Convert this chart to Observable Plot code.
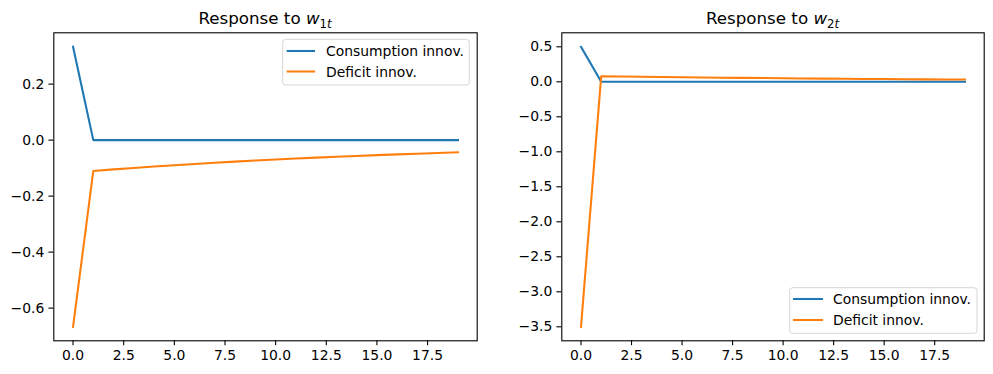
<!DOCTYPE html>
<html>
<head>
<meta charset="utf-8">
<script src="https://cdn.jsdelivr.net/npm/d3@7"></script>
<script src="https://cdn.jsdelivr.net/npm/@observablehq/plot@0.6"></script>
<style>
  html, body { margin: 0; padding: 0; background: white; }
  #wrap { position: relative; width: 993px; height: 374px; overflow: hidden; font-family: "DejaVu Sans", sans-serif; }
  #wrap > svg, #wrap > figure { position: absolute; top: 0; margin: 0; }
  #overlay { position: absolute; left: 0; top: 0; pointer-events: none; }
</style>
</head>
<body>
<div id="wrap"></div>
<script>
// ---- data ----
const periods = [0,1,2,3,4,5,6,7,8,9,10,11,12,13,14,15,16,17,18,19];
const seriesNames = ["Consumption innov.", "Deficit innov."];
const seriesColors = ["#1f77b4", "#ff7f0e"];

const consW1 = [0.3333,0,0,0,0,0,0,0,0,0,0,0,0,0,0,0,0,0,0,0];
const defW1  = [-0.6667,-0.1100,-0.1045,-0.0993,-0.0943,-0.0896,-0.0851,-0.0809,-0.0768,-0.0730,-0.0693,-0.0659,-0.0626,-0.0594,-0.0565,-0.0536,-0.0510,-0.0484,-0.0460,-0.0437];
const consW2 = [0.5,0,0,0,0,0,0,0,0,0,0,0,0,0,0,0,0,0,0,0];
const defW2  = [-3.5,0.0800,0.0760,0.0722,0.0686,0.0652,0.0619,0.0588,0.0559,0.0531,0.0504,0.0479,0.0455,0.0432,0.0411,0.0390,0.0371,0.0352,0.0335,0.0318];

const xTicks = [0,2.5,5,7.5,10,12.5,15,17.5];
const yTicksW1 = [-0.6,-0.4,-0.2,0.0,0.2];
const yTicksW2 = [-3.5,-3.0,-2.5,-2.0,-1.5,-1.0,-0.5,0.0,0.5];
const titleSubs = ["1", "2"];

// ---- helpers ----
const fmt = d3.format(".1f");
function tidy(cons, def) {
  const rows = [];
  periods.forEach((t, i) => rows.push({t, value: cons[i], series: seriesNames[0]}));
  periods.forEach((t, i) => rows.push({t, value: def[i], series: seriesNames[1]}));
  return rows;
}
function yDomain(cons, def) {
  const all = cons.concat(def);
  const lo = d3.min(all), hi = d3.max(all), m = (hi - lo) * 0.05;
  return [lo - m, hi + m];
}
const xDomain = [periods[0] - 0.05 * (periods[periods.length-1] - periods[0]),
                 periods[periods.length-1] + 0.05 * (periods[periods.length-1] - periods[0])];

function panel({width, mL, mR, cons, def, yTicks}) {
  return Plot.plot({
    width, height: 374,
    marginLeft: mL, marginRight: mR, marginTop: 32.3, marginBottom: 33.7,
    style: {fontFamily: "DejaVu Sans", fontSize: "13.9px", color: "black", background: "transparent", overflow: "visible"},
    x: {domain: xDomain},
    y: {domain: yDomain(cons, def)},
    color: {domain: seriesNames, range: seriesColors},
    marks: [
      Plot.axisX({ticks: xTicks, tickFormat: fmt, tickSize: 4.9, tickPadding: 4.4, strokeWidth: 1.1, label: null}),
      Plot.axisY({ticks: yTicks, tickFormat: fmt, tickSize: 4.9, tickPadding: 4.6, strokeWidth: 1.1, label: null}),
      Plot.line(tidy(cons, def), {x: "t", y: "value", z: "series", stroke: "series", strokeWidth: 2.08, strokeLinejoin: "round", strokeLinecap: "square"}),
      Plot.frame({stroke: "black", strokeWidth: 1.1})
    ]
  });
}

const wrap = document.getElementById("wrap");
const p1 = panel({width: 497, mL: 53.3, mR: 20.3, cons: consW1, def: defW1, yTicks: yTicksW1});
p1.style.left = "0px";
wrap.appendChild(p1);
const p2 = panel({width: 496, mL: 64.3, mR: 9.3, cons: consW2, def: defW2, yTicks: yTicksW2});
p2.style.left = "497px";
wrap.appendChild(p2);

// ---- overlay: titles & legends ----
const svg = d3.select(wrap).append("svg").attr("id", "overlay")
  .attr("width", 993).attr("height", 374)
  .style("font-family", "DejaVu Sans");

const axesCenters = [(53.3 + 476.7) / 2, (561.3 + 983.7) / 2];
axesCenters.forEach((cx, k) => {
  const t = svg.append("text").attr("x", cx).attr("y", 24).attr("text-anchor", "middle")
    .attr("font-size", "16.7px").attr("fill", "black");
  t.append("tspan").text("Response to ");
  t.append("tspan").attr("font-style", "italic").text("w");
  t.append("tspan").attr("font-size", "11.7px").attr("dy", 3.5).text(titleSubs[k]);
  t.append("tspan").attr("font-size", "11.7px").attr("font-style", "italic").text("t");
});

function legend(x0, y0, w, h, lineX0, lineX1, rowYs, textX) {
  svg.append("rect").attr("x", x0).attr("y", y0).attr("width", w).attr("height", h)
    .attr("rx", 3).attr("fill", "white").attr("fill-opacity", 0.8)
    .attr("stroke", "#d6d6d6").attr("stroke-width", 1);
  seriesNames.forEach((name, i) => {
    svg.append("line").attr("x1", lineX0).attr("x2", lineX1).attr("y1", rowYs[i]).attr("y2", rowYs[i])
      .attr("stroke", seriesColors[i]).attr("stroke-width", 2.08);
    svg.append("text").attr("x", textX).attr("y", rowYs[i]).attr("dy", "0.36em")
      .attr("font-size", "13.9px").attr("fill", "black").text(name);
  });
}
legend(282.7, 39.3, 186.6, 45.7, 286.7, 315, [51, 71.5], 326);
legend(789.7, 287.7, 187.3, 45.6, 793, 823, [299, 320], 833);
</script>
</body>
</html>
